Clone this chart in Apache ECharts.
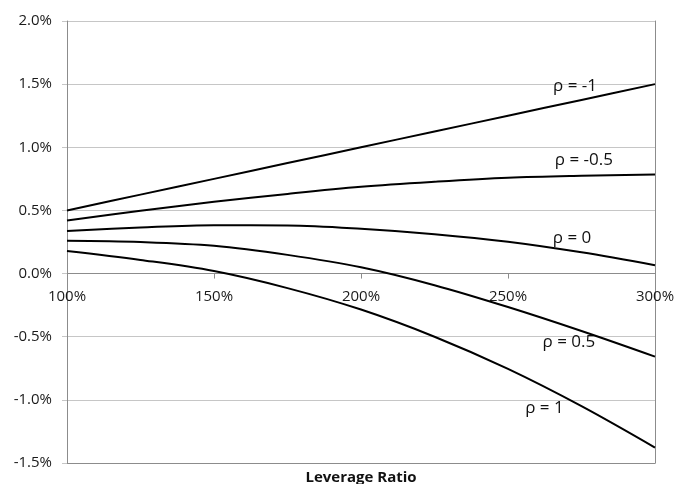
<!DOCTYPE html>
<html>
<head>
<meta charset="utf-8">
<title>Leverage Ratio</title>
<script src="https://cdn.jsdelivr.net/npm/echarts@6/dist/echarts.min.js"></script>
<style>
  html, body { margin: 0; padding: 0; background: #ffffff; }
  #chart { width: 675px; height: 484px; }
</style>
</head>
<body>
<div id="chart"></div>
<script>
// Leverage ratio (1 = 100%) on the x axis
const leverage = [1, 1.25, 1.5, 1.75, 2, 2.25, 2.5, 2.75, 3];

// Return (in %) for each correlation value
const rhoMinus1    = [0.5, 0.625, 0.75, 0.875, 1.0, 1.125, 1.25, 1.375, 1.5];
const rhoMinusHalf = [0.42, 0.498, 0.568, 0.631, 0.687, 0.727, 0.759, 0.775, 0.785];
const rhoZero      = [0.337, 0.365, 0.383, 0.381, 0.355, 0.312, 0.252, 0.168, 0.066];
const rhoHalf      = [0.26, 0.25, 0.22, 0.148, 0.05, -0.092, -0.265, -0.455, -0.658];
const rhoOne       = [0.179, 0.108, 0.02, -0.115, -0.285, -0.5, -0.755, -1.05, -1.378];

const seriesNames  = ['ρ = -1', 'ρ = -0.5', 'ρ = 0', 'ρ = 0.5', 'ρ = 1'];
const seriesValues = [rhoMinus1, rhoMinusHalf, rhoZero, rhoHalf, rhoOne];
// Where each curve's label sits, in data units [leverage, return %]
const labelAnchors = [[2.728, 1.486], [2.758, 0.899], [2.718, 0.28], [2.707, -0.545], [2.624, -1.069]];

const xTicks = { min: 1, max: 3, step: 0.5 };
const yTicks = { min: -1.5, max: 2, step: 0.5 };
const xTitle = 'Leverage Ratio';

const FONT = '"Open Sans", "Liberation Sans", sans-serif';
const AXIS_GREY = '#8c8c8c';
const GRID_GREY = '#c6c6c6';

const GRID = { left: 67, right: 20, top: 21, bottom: 21 };
const plotHeight = 484 - GRID.top - GRID.bottom;
// Lift the leverage axis from the bottom edge up to the 0% line
const zeroOffset = -plotHeight * (0 - yTicks.min) / (yTicks.max - yTicks.min);

const chart = echarts.init(document.getElementById('chart'), null, { renderer: 'canvas' });

const series = seriesValues.map((vals, i) => ({
  type: 'line',
  name: seriesNames[i],
  xAxisIndex: 0,
  yAxisIndex: 0,
  data: leverage.map((x, j) => [x, vals[j]]),
  smooth: 0.35,
  showSymbol: false,
  symbol: 'none',
  lineStyle: { color: '#000000', width: 2 },
  z: 5,
  markPoint: {
    symbol: 'circle',
    symbolSize: 0,
    silent: true,
    label: {
      show: true,
      position: 'inside',
      formatter: seriesNames[i],
      color: '#111111',
      fontFamily: FONT,
      fontSize: 17
    },
    data: [{ coord: labelAnchors[i] }]
  }
}));

chart.setOption({
  backgroundColor: '#ffffff',
  animation: false,
  grid: Object.assign({ containLabel: false, outerBoundsMode: 'none' }, GRID),
  xAxis: [
    {
      type: 'value',
      position: 'bottom',
      offset: zeroOffset,
      min: xTicks.min,
      max: xTicks.max,
      interval: xTicks.step,
      axisLine: { onZero: false, lineStyle: { color: AXIS_GREY, width: 1 } },
      axisTick: { show: true, inside: false, length: 5, lineStyle: { color: AXIS_GREY } },
      splitLine: { show: false },
      axisLabel: {
        color: '#1a1a1a',
        fontFamily: FONT,
        fontSize: 15,
        margin: 16,
        formatter: v => Math.round(v * 100) + '%'
      }
    },
    {
      type: 'value',
      position: 'bottom',
      min: xTicks.min,
      max: xTicks.max,
      axisLine: { onZero: false, lineStyle: { color: AXIS_GREY, width: 1 } },
      axisTick: { show: false },
      axisLabel: { show: false },
      splitLine: { show: false },
      name: xTitle,
      nameLocation: 'middle',
      nameGap: 7,
      nameTextStyle: {
        color: '#111111',
        fontFamily: FONT,
        fontSize: 15,
        fontWeight: 'bold',
        verticalAlign: 'top'
      }
    }
  ],
  yAxis: [
    {
      type: 'value',
      min: yTicks.min,
      max: yTicks.max,
      interval: yTicks.step,
      axisLine: { show: true, lineStyle: { color: AXIS_GREY, width: 1 } },
      axisTick: { show: true, inside: false, length: 5, lineStyle: { color: GRID_GREY } },
      splitLine: { show: true, lineStyle: { color: GRID_GREY, width: 1 } },
      axisLabel: {
        color: '#1a1a1a',
        fontFamily: FONT,
        fontSize: 15,
        margin: 15,
        formatter: v => v.toFixed(1) + '%'
      }
    },
    {
      type: 'value',
      position: 'right',
      min: yTicks.min,
      max: yTicks.max,
      axisLine: { show: true, lineStyle: { color: AXIS_GREY, width: 1 } },
      axisTick: { show: false },
      axisLabel: { show: false },
      splitLine: { show: false }
    }
  ],
  series: series
});
</script>
</body>
</html>
